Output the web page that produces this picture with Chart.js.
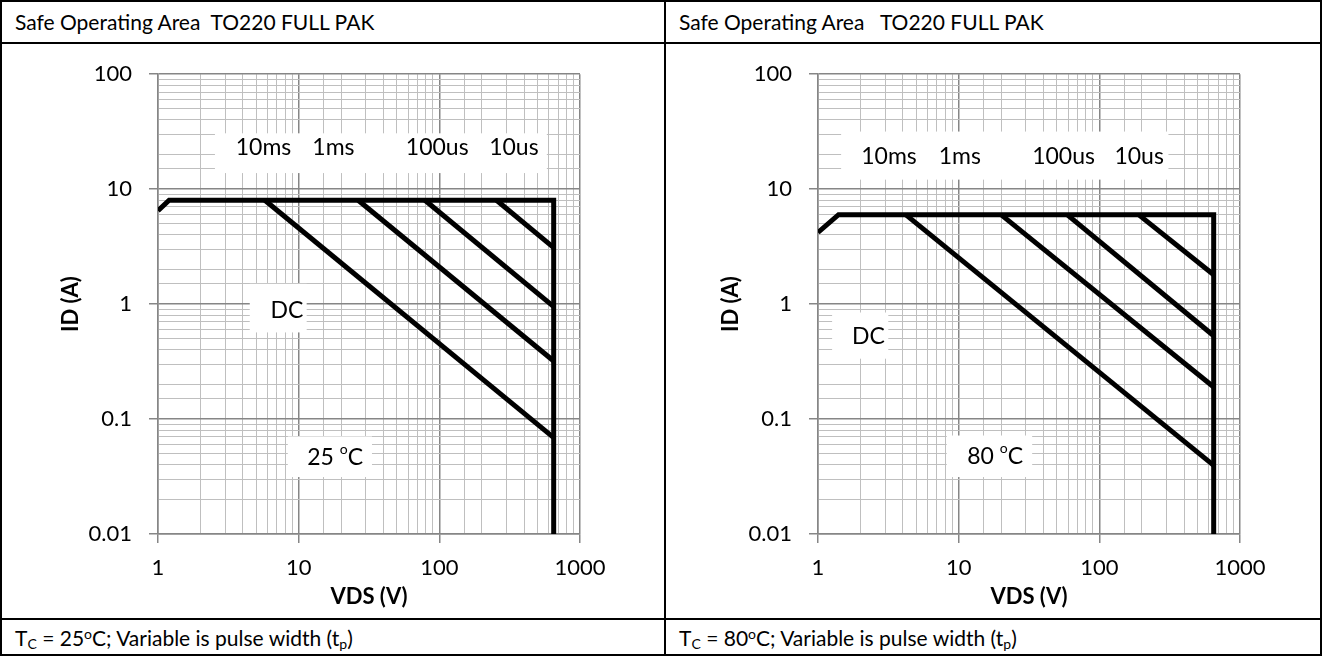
<!DOCTYPE html>
<html>
<head>
<meta charset="utf-8">
<title>Safe Operating Area TO220 FULL PAK</title>
<script src="https://cdn.jsdelivr.net/npm/chart.js@4.4.1/dist/chart.umd.min.js"></script>
<style>
    body { margin: 0; background: #fff; font-family: Lato, "Open Sans", sans-serif; }
    .page { position: relative; width: 1322px; height: 656px; overflow: hidden; }
    .txt { position: absolute; font-size: 21px; line-height: 21px; color: #000; white-space: pre; }
    .txt sup { font-size: 14px; vertical-align: 7px; line-height: 0; }
    .txt sub { font-size: 14px; vertical-align: -3px; line-height: 0; }
    .rule { position: absolute; background: #000; }
    canvas { position: absolute; top: 44px; }
</style>
</head>
<body>
<div class="page">
    <canvas id="soa25" width="661" height="574" style="left:0px"></canvas>
    <canvas id="soa80" width="661" height="574" style="left:660px"></canvas>

    <div class="txt" style="left:15px; top:11px">Safe Operating Area  TO220 FULL PAK</div>
    <div class="txt" style="left:679px; top:11px">Safe Operating Area   TO220 FULL PAK</div>
    <div class="txt" style="left:15px; top:627px">T<sub>C</sub> = 25<sup>o</sup>C; Variable is pulse width (t<sub>p</sub>)</div>
    <div class="txt" style="left:679px; top:627px">T<sub>C</sub> = 80<sup>o</sup>C; Variable is pulse width (t<sub>p</sub>)</div>

    <!-- chenarul tabelului -->
    <div class="rule" style="left:0; top:0; width:1322px; height:2px"></div>
    <div class="rule" style="left:0; top:654px; width:1322px; height:2px"></div>
    <div class="rule" style="left:0; top:0; width:2px; height:656px"></div>
    <div class="rule" style="left:1320px; top:0; width:2px; height:656px"></div>
    <div class="rule" style="left:664px; top:0; width:2px; height:656px"></div>
    <div class="rule" style="left:0; top:42px; width:1322px; height:2px"></div>
    <div class="rule" style="left:0; top:618px; width:1322px; height:2px"></div>
</div>

<script>
// Valori axe
const xTickLabels = [1, 10, 100, 1000];
const yTickLabels = [0.01, 0.1, 1, 10, 100];

// 25 °C - limita (RDS(on), curent maxim, tensiune maxima)
const vds25Limit = [1, 1.2, 650, 650];
const id25Limit = [6.5, 8, 8, 0.01];
// 25 °C - liniile de putere (DC / 10ms, 1ms, 100us, 10us)
const vds25Dc = [5.75, 650];
const id25Dc = [8, 0.069];
const vds25Ms1 = [26.5, 650];
const id25Ms1 = [8, 0.32];
const vds25Us100 = [79, 650];
const id25Us100 = [8, 0.95];
const vds25Us10 = [255, 650];
const id25Us10 = [8, 3.1];

// 80 °C
const vds80Limit = [1, 1.4, 650, 650];
const id80Limit = [4.2, 6, 6, 0.01];
const vds80Dc = [4.2, 650];
const id80Dc = [6, 0.0395];
const vds80Ms1 = [20, 650];
const id80Ms1 = [6, 0.19];
const vds80Us100 = [59, 650];
const id80Us100 = [6, 0.53];
const vds80Us10 = [190, 650];
const id80Us10 = [6, 1.8];

// Etichete cu fundal alb (coordonate in valori de date)
const labels25 = [
    { box: [2.54, 581, 30.6, 13.8], y: 22.8, words: [[3.57, '10ms'], [12.5, '1ms'], [57.8, '100us'], [226, '10us']] },
    { box: [4.49, 11.4, 1.5, 0.567], y: 0.875, words: [[6.3, 'DC']] },
    { box: [8.37, 33.2, 0.0705, 0.0313], y: 0.0466, words: [[11.5, '25 °C']] }
];
const labels80 = [
    { box: [1.46, 310, 31.7, 12.1], y: 19.2, words: [[2.03, '10ms'], [7.21, '1ms'], [33.3, '100us'], [128, '10us']] },
    { box: [1.26, 3.16, 0.845, 0.335], y: 0.52, words: [[1.745, 'DC']] },
    { box: [8.23, 33.3, 0.0719, 0.0313], y: 0.047, words: [[11.5, '80 °C']] }
];

const FONT = 'Lato, "Open Sans", sans-serif';
const MAJOR_GRID = '#868686';
const MINOR_GRID = '#bfbfbf';

// Funcții utilitare
const isDecade = (v) => Math.abs(Math.log10(v) - Math.round(Math.log10(v))) < 1e-6;
const inList = (list, v) => list.some(t => Math.abs(Math.log10(t) - Math.log10(v)) < 1e-6);
const toPoints = (xs, ys) => xs.map((x, i) => ({ x: x, y: ys[i] }));

const lineSet = (xs, ys) => ({
    data: toPoints(xs, ys),
    borderColor: '#000',
    borderWidth: 5,
    borderJoinStyle: 'miter',
    pointRadius: 0,
    showLine: true,
    tension: 0
});

// Plugin pentru etichetele cu fundal alb
const boxLabels = {
    id: 'boxLabels',
    beforeDatasetsDraw(chart, args, opts) {
        const { ctx, scales: { x, y } } = chart;
        ctx.save();
        (opts.items || []).forEach(item => {
            const x0 = x.getPixelForValue(item.box[0]);
            const x1 = x.getPixelForValue(item.box[1]);
            const y0 = y.getPixelForValue(item.box[2]);
            const y1 = y.getPixelForValue(item.box[3]);
            ctx.fillStyle = '#fff';
            ctx.fillRect(x0, y0, x1 - x0, y1 - y0);

            const ty = y.getPixelForValue(item.y);
            ctx.fillStyle = '#000';
            ctx.textBaseline = 'middle';
            ctx.textAlign = 'left';
            item.words.forEach(([wx, text]) => {
                let px = x.getPixelForValue(wx);
                const parts = text.split('°');
                parts.forEach((part, i) => {
                    if (i > 0) {
                        ctx.font = '14px ' + FONT;
                        ctx.fillText('o', px, ty - 8);
                        px += ctx.measureText('o').width;
                    }
                    ctx.font = '23px ' + FONT;
                    ctx.fillText(part, px, ty);
                    px += ctx.measureText(part).width;
                });
            });
        });
        ctx.restore();
    }
};

const gridOpts = {
    color: (c) => (c.tick && isDecade(c.tick.value) ? MAJOR_GRID : MINOR_GRID),
    lineWidth: (c) => (c.tick && isDecade(c.tick.value) ? 1.5 : 1),
    tickColor: (c) => (c.tick && isDecade(c.tick.value) ? MAJOR_GRID : 'rgba(0,0,0,0)'),
    tickLength: 9,
    tickWidth: 1.5
};

// Inițializare grafic
const initChart = (id, datasets, items) => {
    const ctx = document.getElementById(id).getContext('2d');
    return new Chart(ctx, {
        type: 'scatter',
        data: { datasets: datasets },
        plugins: [boxLabels],
        options: {
            responsive: false,
            animation: false,
            events: [],
            layout: { padding: { left: 56, right: 81, top: 29, bottom: 0 } },
            plugins: {
                legend: { display: false },
                tooltip: { enabled: false },
                boxLabels: { items: items }
            },
            scales: {
                x: {
                    type: 'logarithmic',
                    min: 1,
                    max: 1000,
                    afterFit: (s) => { s.height = 84; },
                    grid: gridOpts,
                    border: { color: MAJOR_GRID, width: 1.5 },
                    ticks: {
                        autoSkip: false,
                        maxRotation: 0,
                        padding: 12,
                        color: '#000',
                        font: { family: FONT, size: 22 },
                        callback: (v) => (inList(xTickLabels, v) ? String(Math.round(v)) : '')
                    },
                    title: {
                        display: true,
                        text: 'VDS (V)',
                        color: '#000',
                        font: { family: FONT, size: 22, weight: 'bold' },
                        padding: { top: 0, bottom: 8 }
                    }
                },
                y: {
                    type: 'logarithmic',
                    min: 0.01,
                    max: 100,
                    afterFit: (s) => { s.width = 102; },
                    grid: gridOpts,
                    border: { color: MAJOR_GRID, width: 1.5 },
                    ticks: {
                        autoSkip: false,
                        padding: 17,
                        color: '#000',
                        font: { family: FONT, size: 22 },
                        callback: (v) => (inList(yTickLabels, v) ? String(+v.toPrecision(3)) : '')
                    },
                    title: {
                        display: true,
                        text: 'ID (A)',
                        color: '#000',
                        font: { family: FONT, size: 22, weight: 'bold' },
                        padding: { top: 2, bottom: 0 }
                    }
                }
            }
        }
    });
};

document.addEventListener('DOMContentLoaded', () => {
    initChart('soa25', [
        lineSet(vds25Limit, id25Limit),
        lineSet(vds25Dc, id25Dc),
        lineSet(vds25Ms1, id25Ms1),
        lineSet(vds25Us100, id25Us100),
        lineSet(vds25Us10, id25Us10)
    ], labels25);

    initChart('soa80', [
        lineSet(vds80Limit, id80Limit),
        lineSet(vds80Dc, id80Dc),
        lineSet(vds80Ms1, id80Ms1),
        lineSet(vds80Us100, id80Us100),
        lineSet(vds80Us10, id80Us10)
    ], labels80);
});
</script>
</body>
</html>
